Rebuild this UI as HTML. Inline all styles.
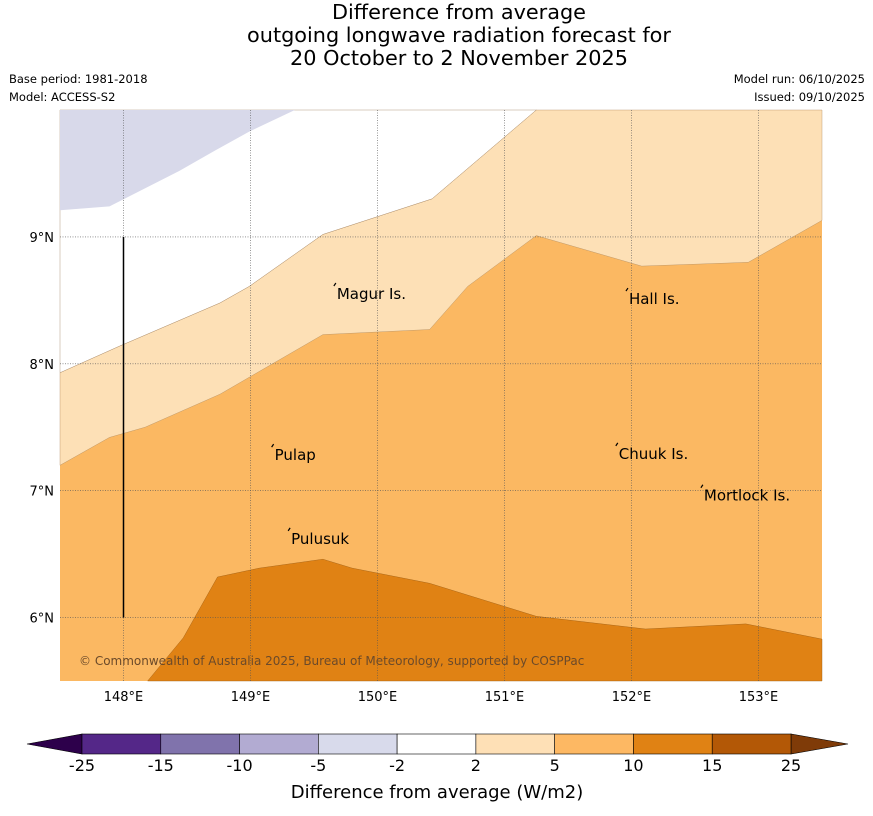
<!DOCTYPE html>
<html><head><meta charset="utf-8"><style>
body{margin:0;background:#fff;font-family:"DejaVu Sans","Liberation Sans",sans-serif;}
svg{display:block}
</style></head><body>
<svg id="chart" width="873" height="816" xmlns="http://www.w3.org/2000/svg">
<text x="459" y="19" text-anchor="middle" font-size="20.8">Difference from average</text>
<text x="459" y="42" text-anchor="middle" font-size="20.8">outgoing longwave radiation forecast for</text>
<text x="459" y="65" text-anchor="middle" font-size="20.8">20 October to 2 November 2025</text>
<text x="9" y="83" font-size="11.5">Base period: 1981-2018</text>
<text x="9" y="101" font-size="11.5">Model: ACCESS-S2</text>
<text x="865" y="83" font-size="11.5" text-anchor="end">Model run: 06/10/2025</text>
<text x="865" y="101" font-size="11.5" text-anchor="end">Issued: 09/10/2025</text>
<g id="map"></g>
<g id="cbar"></g>
<text x="437" y="798" text-anchor="middle" font-size="18">Difference from average (W/m2)</text>
</svg>
<script>
const lonTicks=[148,149,150,151,152,153];
const latTicks=[6,7,8,9];
const lavenderContour=[[147.5,10],[149.35,10],[148.99,9.83],[148.72,9.68],[148.44,9.52],[147.89,9.24],[147.5,9.21]];
const contour2=[[147.5,7.93],[147.97,8.14],[148.76,8.48],[148.99,8.61],[149.57,9.02],[150.43,9.30],[151.25,10]];
const contour5=[[147.5,7.2],[147.89,7.42],[148.17,7.5],[148.76,7.76],[149.57,8.23],[150.41,8.27],[150.71,8.61],[151.25,9.01],[152.08,8.77],[152.92,8.8],[153.5,9.13]];
const contour10=[[148.19,5.5],[148.47,5.84],[148.74,6.32],[149.07,6.39],[149.57,6.46],[149.8,6.39],[150.41,6.27],[151.25,6.01],[152.11,5.91],[152.9,5.95],[153.5,5.83]];
const islandNames=["Magur Is.","Hall Is.","Pulap","Chuuk Is.","Mortlock Is.","Pulusuk"];
const islandLon=[149.68,151.98,149.19,151.9,152.57,149.32];
const islandLat=[8.55,8.51,7.28,7.29,6.96,6.62];
const cbLabels=["-25","-15","-10","-5","-2","2","5","10","15","25"];
const cbColors=["#542788","#8073ac","#b2abd2","#d8daeb","#ffffff","#fee0b6","#fdb863","#e08214","#b35806"];

const NS="http://www.w3.org/2000/svg";
const X0=60,X1=822,Y0=110,Y1=681,LON0=147.5,LON1=153.5,LAT0=5.5,LAT1=10;
const xs=l=>X0+(l-LON0)/(LON1-LON0)*(X1-X0);
const ys=l=>Y1-(l-LAT0)/(LAT1-LAT0)*(Y1-Y0);
const map=document.getElementById('map');
function mk(tag,attrs,parent){const e=document.createElementNS(NS,tag);for(const k in attrs)e.setAttribute(k,attrs[k]);parent.appendChild(e);return e;}
const pts=a=>a.map(p=>xs(p[0]).toFixed(1)+','+ys(p[1]).toFixed(1)).join(' ');

let e=mk('rect',{x:X0,y:Y0,width:X1-X0,height:Y1-Y0,fill:'#fbb862'},map);


const light=contour5.concat([[153.5,10]]).concat(contour2.slice().reverse());
e=mk('polygon',{points:pts(light),fill:'#fde0b6',stroke:'#b08c60','stroke-width':0.4},map);


const white=contour2.concat([[147.5,10]]);
e=mk('polygon',{points:pts(white),fill:'#ffffff',stroke:'#a08060','stroke-width':0.4},map);


e=mk('polygon',{points:pts(lavenderContour),fill:'#d8d9ea'},map);


const dark=contour10.concat([[153.5,5.5]]);
e=mk('polygon',{points:pts(dark),fill:'#e08214',stroke:'#9a5a10','stroke-width':0.4},map);



lonTicks.forEach(l=>{
 let g=mk('line',{x1:xs(l),x2:xs(l),y1:Y0,y2:Y1,stroke:'#555','stroke-width':0.6,'stroke-dasharray':'1,1.5'},map);
 
 
 let t=mk('text',{x:xs(l),y:Y1+20,'text-anchor':'middle','font-size':13},map);t.textContent=l+'°E';
 
 
});
latTicks.forEach(l=>{
 let g=mk('line',{x1:X0,x2:X1,y1:ys(l),y2:ys(l),stroke:'#555','stroke-width':0.6,'stroke-dasharray':'1,1.5'},map);
 
 
 let t=mk('text',{x:X0-6,y:ys(l)+5,'text-anchor':'end','font-size':13},map);t.textContent=l+'°N';
 
 
});
e=mk('line',{x1:xs(148),x2:xs(148),y1:ys(9),y2:ys(6),stroke:'#000','stroke-width':1.5},map);



islandNames.forEach((n,i)=>{
 let x=xs(islandLon[i]),y=ys(islandLat[i]);
 let d=mk('path',{d:`M${x-3},${y-8} l2,-3`,stroke:'#000','stroke-width':1.2,fill:'none'},map);
 
 
 let t=mk('text',{x:x,y:y+5,'font-size':15},map);t.textContent=n;
 
 
});
e=mk('text',{x:79,y:665,'font-size':12,fill:'#6b4a2a'},map);
e.textContent='© Commonwealth of Australia 2025, Bureau of Meteorology, supported by COSPPac';



const cb=document.getElementById('cbar');
const CX0=82,CX1=791,CY0=734,CY1=754,seg=(CX1-CX0)/cbColors.length;
e=mk('polygon',{points:`27,744 ${CX0},${CY0} ${CX0},${CY1}`,fill:'#2d004b',stroke:'#000','stroke-width':0.6},cb);


e=mk('polygon',{points:`848,744 ${CX1},${CY0} ${CX1},${CY1}`,fill:'#7f3b08',stroke:'#000','stroke-width':0.6},cb);


cbColors.forEach((c,i)=>{
 let r=mk('rect',{x:CX0+i*seg,y:CY0,width:seg,height:CY1-CY0,fill:c,stroke:'#000','stroke-width':0.6},cb);
 
 
});
cbLabels.forEach((l,i)=>{
 let t=mk('text',{x:CX0+i*seg,y:771,'text-anchor':'middle','font-size':16},cb);t.textContent=l;
 
 
});
</script>
</body></html>
